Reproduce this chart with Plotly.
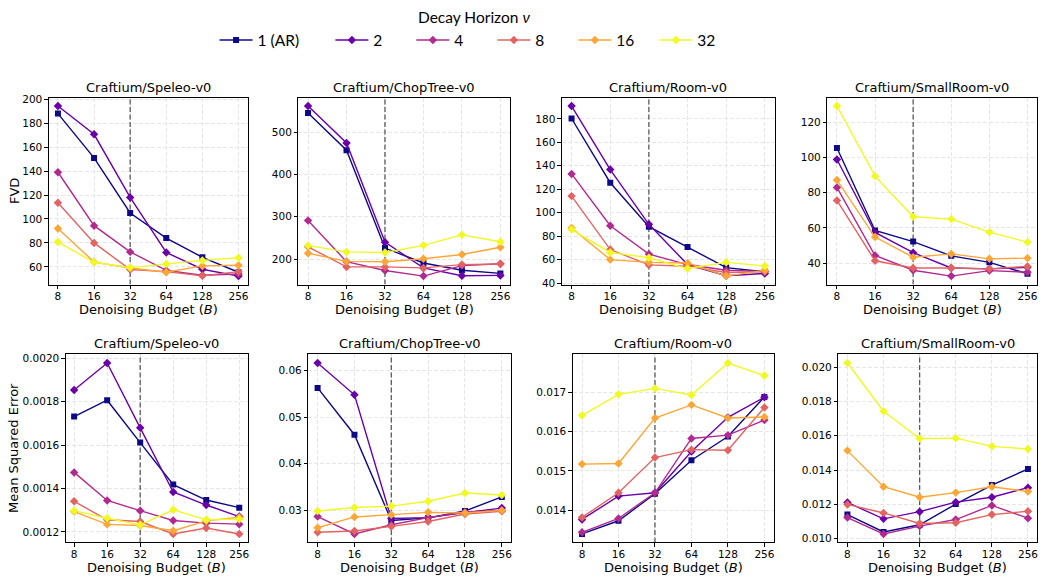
import math
import plotly.graph_objects as go

W, H = 1041, 578

budgets = [8, 16, 32, 64, 128, 256]
budget_labels = ["8", "16", "32", "64", "128", "256"]
horizon_labels = ["1 (AR)", "2", "4", "8", "16", "32"]
horizon_colors = ["#0d0887", "#6a00a8", "#b12a90", "#e16462", "#fca636", "#f0f921"]
horizon_symbols = ["square", "diamond", "diamond", "diamond", "diamond", "diamond"]
ref_budget = 32

env_names = ["Craftium/Speleo-v0", "Craftium/ChopTree-v0", "Craftium/Room-v0", "Craftium/SmallRoom-v0"]

# FVD (rows: horizon 1(AR), 2, 4, 8, 16, 32; columns: budgets)
fvd_speleo = [
    [188, 151, 105, 84, 68, 55.5],
    [194.3, 170.7, 118, 72, 58, 52.3],
    [139, 94.4, 72.5, 57, 53, 54],
    [113.5, 80, 57.8, 56, 52.5, 56],
    [92, 64, 59, 55.5, 60.8, 61.3],
    [80.7, 63.8, 59.4, 62.4, 65.4, 67.6],
]
fvd_choptree = [
    [545.6, 457.5, 226, 190.6, 173.6, 166],
    [561.9, 474.5, 240, 179, 160.5, 161.3],
    [291, 193.8, 172.9, 159.7, 184.5, 189],
    [229, 181.4, 181.4, 179, 186.8, 188.3],
    [213.8, 194.5, 193.7, 200.7, 210.7, 227.8],
    [231.6, 216.9, 215.4, 232.4, 257.2, 240.9],
]
fvd_room = [
    [180.3, 125.6, 88.2, 70.9, 53.3, 49.7],
    [190.9, 136.8, 90.2, 55.9, 46.4, 48.3],
    [133.1, 89, 64.8, 55.9, 51.1, 50],
    [114.2, 68.7, 55.6, 54.5, 49.2, 49.7],
    [87.1, 60.1, 57.8, 57.3, 46.1, 51.1],
    [85.7, 66.2, 61.7, 52.5, 57.8, 54.7],
]
fvd_smallroom = [
    [105.4, 58.5, 52.2, 44.1, 40.4, 33.9],
    [98.9, 57.4, 45.9, 37.2, 36.7, 37.6],
    [83, 44.3, 35.9, 32.6, 35.7, 34.8],
    [75.6, 41.3, 37.2, 37.2, 36.7, 38.1],
    [87.2, 54.8, 43.3, 45.2, 42.4, 42.8],
    [129.3, 89.4, 66.3, 65, 57.6, 51.9],
]

# Mean squared error
mse_speleo = [
    [0.001731, 0.001806, 0.001611, 0.001418, 0.001347, 0.001312],
    [0.001853, 0.001977, 0.001679, 0.001384, 0.001324, 0.001271],
    [0.001474, 0.001345, 0.001298, 0.001253, 0.001241, 0.001236],
    [0.001341, 0.001256, 0.001248, 0.001191, 0.001218, 0.001191],
    [0.001294, 0.001235, 0.001230, 0.001206, 0.001251, 0.001268],
    [0.001298, 0.001263, 0.001233, 0.001302, 0.001256, 0.001259],
]
mse_choptree = [
    [0.05627, 0.04620, 0.02775, 0.02831, 0.02979, 0.03282],
    [0.06162, 0.05479, 0.02817, 0.02838, 0.02944, 0.03042],
    [0.02859, 0.02486, 0.02683, 0.02838, 0.02958, 0.02993],
    [0.02521, 0.02549, 0.02648, 0.02754, 0.02915, 0.02972],
    [0.02620, 0.02852, 0.02901, 0.02951, 0.02937, 0.02993],
    [0.02979, 0.03056, 0.03085, 0.03190, 0.03366, 0.03324],
]
mse_room = [
    [0.013396, 0.013732, 0.014419, 0.015273, 0.015877, 0.016883],
    [0.013765, 0.014360, 0.014444, 0.015492, 0.016363, 0.016874],
    [0.013438, 0.013790, 0.014444, 0.015826, 0.015910, 0.016296],
    [0.013816, 0.014444, 0.015340, 0.015541, 0.015525, 0.016614],
    [0.015173, 0.015190, 0.016346, 0.016681, 0.016346, 0.016371],
    [0.016413, 0.016950, 0.017100, 0.016933, 0.017746, 0.017427],
]
mse_smallroom = [
    [0.011398, 0.010383, 0.010805, 0.012011, 0.013123, 0.014061],
    [0.012107, 0.011149, 0.011570, 0.012126, 0.012414, 0.012970],
    [0.011226, 0.010268, 0.010728, 0.011110, 0.011935, 0.011188],
    [0.011992, 0.011494, 0.010881, 0.010920, 0.011398, 0.011590],
    [0.015134, 0.013027, 0.012414, 0.012682, 0.013027, 0.012740],
    [0.020249, 0.017433, 0.015843, 0.015862, 0.015383, 0.015230],
]

# panel layout (pixel boxes: left, right, top, bottom) and tick settings
panels = [
    dict(data=fvd_speleo, env=0, box=(49, 248, 94, 284), dtick=20, fmt="d"),
    dict(data=fvd_choptree, env=1, box=(299, 511, 94, 284), dtick=100, fmt="d"),
    dict(data=fvd_room, env=2, box=(563, 776, 94, 284), dtick=20, fmt="d"),
    dict(data=fvd_smallroom, env=3, box=(829, 1039, 94, 284), dtick=20, fmt="d"),
    dict(data=mse_speleo, env=0, box=(66, 248, 355, 546), dtick=0.0002, fmt=".4f"),
    dict(data=mse_choptree, env=1, box=(309, 512, 355, 546), dtick=0.01, fmt=".2f"),
    dict(data=mse_room, env=2, box=(574, 775, 355, 546), dtick=0.001, fmt=".3f"),
    dict(data=mse_smallroom, env=3, box=(840, 1039, 355, 546), dtick=0.002, fmt=".3f"),
]


def px_x(p):
    return p / W


def px_y(p):
    return 1 - p / H


fig = go.Figure()
layout = {}
annotations = []

lx0 = math.log10(budgets[0])
lx1 = math.log10(budgets[-1])
xpad = 0.05 * (lx1 - lx0)

tick_font = dict(family="DejaVu Sans", size=10.5, color="black")
label_font = dict(family="DejaVu Sans", size=13, color="black")
grid = dict(showgrid=True, gridcolor="#e6e6e6", gridwidth=0.8, griddash="4px,2px")
box_line = dict(showline=True, mirror=True, linecolor="black", linewidth=1,
                ticks="outside", ticklen=3.5, tickcolor="black", tickwidth=1,
                tickfont=tick_font, zeroline=False)

for i, p in enumerate(panels):
    k = i + 1
    xa = "x" if k == 1 else f"x{k}"
    ya = "y" if k == 1 else f"y{k}"
    xkey = "xaxis" if k == 1 else f"xaxis{k}"
    ykey = "yaxis" if k == 1 else f"yaxis{k}"
    l, r, t, b = p["box"]
    data = p["data"]
    vals = [v for s in data for v in s]
    vmin, vmax = min(vals), max(vals)
    ypad = 0.05 * (vmax - vmin)
    y_range = [vmin - ypad, vmax + ypad]

    # reference budget marker line, drawn under the data series
    fig.add_trace(go.Scatter(
        x=[ref_budget, ref_budget], y=y_range, mode="lines",
        line=dict(color="#5a5a5a", width=1.3, dash="5px,2.5px"),
        xaxis=xa, yaxis=ya, showlegend=False, hoverinfo="skip",
    ))
    for j, series in enumerate(data):
        fig.add_trace(go.Scatter(
            x=budgets, y=series, mode="lines+markers",
            name=horizon_labels[j],
            line=dict(color=horizon_colors[j], width=1.4),
            marker=dict(symbol=horizon_symbols[j], color=horizon_colors[j],
                        size=6 if j == 0 else 6.5),
            xaxis=xa, yaxis=ya,
            showlegend=(i == 0),
            legend="legend" if j == 0 else "legend2",
        ))
    layout[xkey] = dict(
        domain=[px_x(l), px_x(r)], anchor=ya, type="log",
        range=[lx0 - xpad, lx1 + xpad],
        tickmode="array", tickvals=budgets, ticktext=budget_labels,
        ticklabelstandoff=-2,
        **box_line, **grid,
    )
    layout[ykey] = dict(
        domain=[px_y(b), px_y(t)], anchor=xa,
        range=y_range,
        tickmode="linear", tick0=0, dtick=p["dtick"], tickformat=p["fmt"],
        **box_line, **grid,
    )
    annotations.append(dict(
        text=env_names[p["env"]], xref="paper", yref="paper",
        x=px_x((l + r) / 2), y=px_y(t - 1), xanchor="center", yanchor="bottom",
        showarrow=False, font=label_font,
    ))
    annotations.append(dict(
        text="Denoising Budget (<i>B</i>)", xref="paper", yref="paper",
        x=px_x((l + r) / 2), y=px_y(b + 25), xanchor="center", yanchor="middle",
        showarrow=False, font=label_font,
    ))

annotations.append(dict(
    text="FVD", xref="paper", yref="paper", x=px_x(14), y=px_y(189),
    xanchor="center", yanchor="middle", textangle=-90, showarrow=False, font=label_font,
))
annotations.append(dict(
    text="Mean Squared Error", xref="paper", yref="paper", x=px_x(14), y=px_y(450),
    xanchor="center", yanchor="middle", textangle=-90, showarrow=False, font=label_font,
))
annotations.append(dict(
    text="Decay Horizon <i>ν</i>", xref="paper", yref="paper", x=px_x(475), y=px_y(12),
    xanchor="center", yanchor="middle", showarrow=False,
    font=dict(family="Lato", size=15.5, color="black"),
))

legend_font = dict(family="Lato", size=15.5, color="black")
fig.update_layout(
    width=W, height=H,
    margin=dict(l=0, r=0, t=0, b=0),
    paper_bgcolor="white", plot_bgcolor="white",
    annotations=annotations,
    legend=dict(orientation="h", x=px_x(215), xanchor="left", y=px_y(36), yanchor="middle",
                font=legend_font, bgcolor="rgba(0,0,0,0)", itemwidth=33),
    legend2=dict(orientation="h", x=px_x(331), xanchor="left", y=px_y(36), yanchor="middle",
                 font=legend_font, bgcolor="rgba(0,0,0,0)", itemwidth=33, entrywidth=33,
                 entrywidthmode="pixels"),
    **layout,
)

fig.write_html("out.html", config={"displayModeBar": False},
               post_script="document.body.style.margin='0';document.body.style.overflow='hidden';")
